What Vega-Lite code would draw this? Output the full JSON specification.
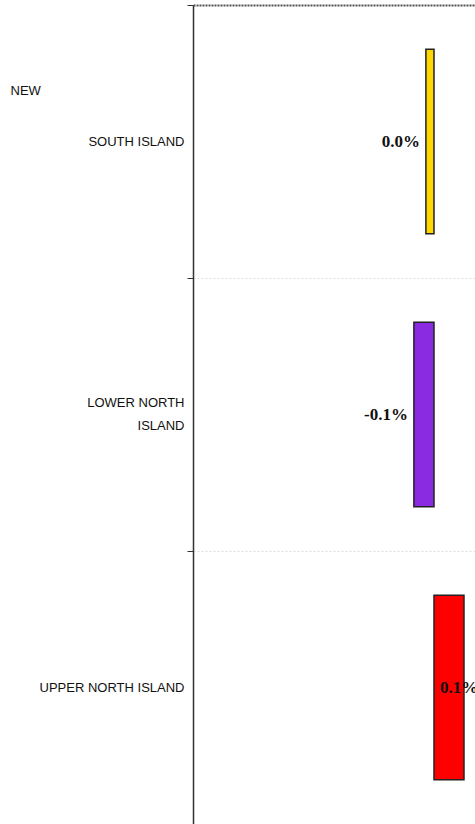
{
  "$schema": "https://vega.github.io/schema/vega-lite/v6.json",
  "autosize": "none",
  "padding": {"left": 193, "top": 5, "right": 0, "bottom": 0},
  "width": 282,
  "height": 819,
  "background": "white",
  "config": {"view": {"stroke": null}},
  "data": {
    "values": [
      {"region": "SOUTH ISLAND", "change": -0.027, "label": "0.0%", "color": "#FFD700"},
      {"region": "LOWER NORTH ISLAND", "change": -0.067, "label": "-0.1%", "color": "#8A2BE2"},
      {"region": "UPPER NORTH ISLAND", "change": 0.1, "label": "0.1%", "color": "#FF0000"}
    ]
  },
  "encoding": {
    "y": {
      "field": "region",
      "type": "nominal",
      "sort": null,
      "scale": {"paddingInner": 0, "paddingOuter": 0},
      "axis": {
        "title": "NEW",
        "titleAngle": 0,
        "titleAlign": "left",
        "titleBaseline": "middle",
        "titleX": -183,
        "titleY": 85,
        "titleFont": "Liberation Sans",
        "titleFontWeight": "normal",
        "titleFontSize": 13,
        "titleColor": "#111",
        "labelFont": "Liberation Sans",
        "labelFontSize": 13,
        "labelColor": "#111",
        "labelPadding": 3,
        "labelLineHeight": 23,
        "labelOffset": {"condition": {"test": "datum.value == 'LOWER NORTH ISLAND'", "value": -12}, "value": 0},
        "labelExpr": "datum.value == 'LOWER NORTH ISLAND' ? ['LOWER NORTH', 'ISLAND'] : datum.value",
        "tickBand": "extent",
        "tickSize": 6,
        "tickColor": "#333",
        "domainColor": "#333",
        "domainWidth": 1.5,
        "grid": true,
        "gridColor": "#dddddd",
        "gridDash": [2, 2]
      }
    }
  },
  "layer": [
    {
      "mark": {"type": "bar", "stroke": "#222", "strokeWidth": 1.5, "height": {"band": 0.675}},
      "encoding": {
        "x": {
          "field": "change",
          "type": "quantitative",
          "scale": {"domain": [-0.8033, 0.1367], "nice": false, "zero": true},
          "axis": {
            "orient": "top",
            "title": null,
            "labels": false,
            "ticks": false,
            "grid": false,
            "domainColor": "#555",
            "domainWidth": 2,
            "domainDash": [2, 1]
          }
        },
        "color": {"field": "color", "type": "nominal", "scale": null}
      }
    },
    {
      "transform": [{"filter": "datum.change < 0"}],
      "mark": {"type": "text", "align": "right", "baseline": "middle", "dx": -6, "font": "Liberation Serif", "fontWeight": "bold", "fontSize": 17, "color": "#111", "clip": true},
      "encoding": {
        "x": {"field": "change", "type": "quantitative"},
        "text": {"field": "label"}
      }
    },
    {
      "transform": [{"filter": "datum.change >= 0"}],
      "mark": {"type": "text", "align": "left", "baseline": "middle", "dx": 6, "font": "Liberation Serif", "fontWeight": "bold", "fontSize": 17, "color": "#111", "clip": true},
      "encoding": {
        "x": {"datum": 0, "type": "quantitative"},
        "text": {"field": "label"}
      }
    }
  ]
}
